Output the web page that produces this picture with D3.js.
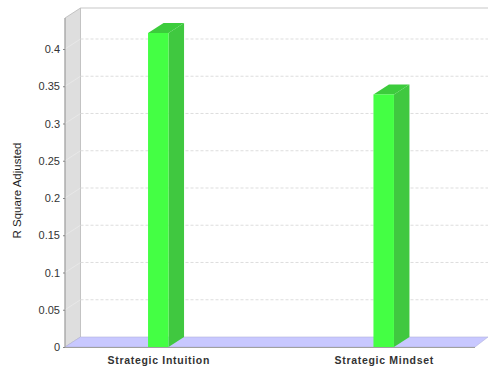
<!DOCTYPE html>
<html>
<head>
<meta charset="utf-8">
<script src="https://cdn.jsdelivr.net/npm/d3@7"></script>
<style>
  html, body { margin: 0; padding: 0; background: #fff; }
  svg { display: block; }
</style>
</head>
<body>
<svg id="chart" width="488" height="371"></svg>
<script>
// Chart data
const categories = ["Strategic Intuition", "Strategic Mindset"];
const values = [0.4215, 0.339];
const yTicks = [0, 0.05, 0.1, 0.15, 0.2, 0.25, 0.3, 0.35, 0.4];
const yTickLabels = ["0", "0.05", "0.1", "0.15", "0.2", "0.25", "0.3", "0.35", "0.4"];
const yLabel = "R Square Adjusted";

(function () {
  const svg = d3.select("#chart");
  const W = 488;

  // 3D plot frame
  const pLeft = 65, pRight = 473, pTop = 18, pBottom = 347;
  const dx = 15.5, dy = 10;

  const y = d3.scaleLinear().domain([0, 0.4416]).range([pBottom, pTop]);
  const x = d3.scalePoint().domain(categories).range([pLeft + 2, pRight + 2]).padding(0.405);
  const barW = 20.5;

  const font = "'Liberation Sans', Arial, sans-serif";
  const pts = arr => arr.map(p => p.join(",")).join(" ");

  // back wall outline
  svg.append("line").attr("x1", pLeft + dx).attr("x2", W).attr("y1", pTop - dy).attr("y2", pTop - dy)
    .attr("stroke", "#c8c8c8").attr("stroke-width", 1.2);

  // gridlines on the back plane
  yTicks.slice(1).forEach(v => {
    svg.append("line")
      .attr("x1", pLeft + dx).attr("x2", W)
      .attr("y1", y(v) - dy).attr("y2", y(v) - dy)
      .attr("stroke", "#d4d4d4").attr("stroke-width", 0.8)
      .attr("stroke-dasharray", "3,2");
  });

  // left side wall
  svg.append("polygon")
    .attr("points", pts([[pLeft, pBottom], [pLeft, pTop], [pLeft + dx, pTop - dy], [pLeft + dx, pBottom - dy]]))
    .attr("fill", "#dedede").attr("stroke", "#b8b8b8").attr("stroke-width", 0.8);

  // faint grid traces across the wall
  yTicks.slice(1).forEach(v => {
    svg.append("line")
      .attr("x1", pLeft).attr("x2", pLeft + dx)
      .attr("y1", y(v)).attr("y2", y(v) - dy)
      .attr("stroke", "#eaeaea").attr("stroke-width", 0.8);
  });

  // floor
  svg.append("polygon")
    .attr("points", pts([[pLeft, pBottom], [pLeft + dx, pBottom - dy], [W, pBottom - dy], [pRight + 2, pBottom]]))
    .attr("fill", "#c8c8ff").attr("stroke", "#b4b4dc").attr("stroke-width", 0.6);

  // bars
  const bars = svg.append("g");
  categories.forEach((c, i) => {
    const x0 = x(c) - barW / 2;
    const yt = y(values[i]);
    const g = bars.append("g");
    g.append("polygon")
      .attr("points", pts([[x0 + barW, yt], [x0 + barW + dx, yt - dy], [x0 + barW + dx, pBottom - dy], [x0 + barW, pBottom]]))
      .attr("fill", "#40c840");
    g.append("polygon")
      .attr("points", pts([[x0, yt], [x0 + dx, yt - dy], [x0 + barW + dx, yt - dy], [x0 + barW, yt]]))
      .attr("fill", "#3ccc3c");
    g.append("rect")
      .attr("x", x0).attr("y", yt).attr("width", barW).attr("height", pBottom - yt)
      .attr("fill", "#44ff44");
  });

  // axis lines
  svg.append("line").attr("x1", pLeft).attr("x2", pLeft).attr("y1", pTop).attr("y2", pBottom)
    .attr("stroke", "#a0a0a0").attr("stroke-width", 1);
  svg.append("line").attr("x1", pLeft).attr("x2", pRight + 2).attr("y1", pBottom + 0.5).attr("y2", pBottom + 0.5)
    .attr("stroke", "#a0a0a0").attr("stroke-width", 1);

  // value axis
  const yAxis = d3.axisLeft(y).tickValues(yTicks).tickFormat((d, i) => yTickLabels[i]).tickSize(2).tickPadding(3);
  const ya = svg.append("g").attr("transform", `translate(${pLeft},0)`).call(yAxis);
  ya.select(".domain").remove();
  ya.selectAll(".tick line").attr("stroke", "#888");
  ya.selectAll(".tick text").attr("fill", "#333").style("font-family", font).style("font-size", "11px");

  // category labels
  const xAxis = d3.axisBottom(x).tickSize(0).tickPadding(10);
  const xa = svg.append("g").attr("transform", `translate(0,${pBottom})`).call(xAxis);
  xa.select(".domain").remove();
  xa.selectAll(".tick text").attr("fill", "#333")
    .style("font-family", font).style("font-size", "10.5px").style("font-weight", "bold")
    .style("letter-spacing", "0.7px");

  // value axis title
  svg.append("text")
    .attr("transform", `translate(21,${(pTop + pBottom) / 2 + 8}) rotate(-90)`)
    .attr("text-anchor", "middle")
    .attr("fill", "#222")
    .style("font-family", font).style("font-size", "11.5px")
    .text(yLabel);
})();
</script>
</body>
</html>
